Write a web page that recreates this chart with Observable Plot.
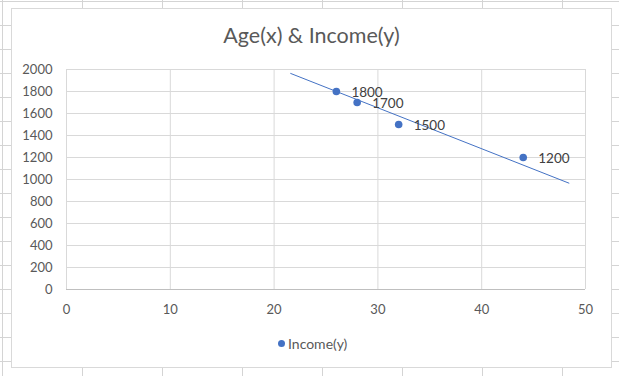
<!DOCTYPE html>
<html>
<head>
<meta charset="utf-8">
<script src="https://cdn.jsdelivr.net/npm/d3@7"></script>
<script src="https://cdn.jsdelivr.net/npm/@observablehq/plot@0.6"></script>
<style>
  html, body { margin: 0; padding: 0; }
  body {
    width: 619px; height: 376px; position: relative; overflow: hidden;
    background-color: #fff;
    background-image:
      linear-gradient(to right, #d4d4d4 1px, transparent 1px),
      linear-gradient(to bottom, #d4d4d4 1px, transparent 1px);
    background-size: 80px 24px;
    background-position: 2px 1px;
  }
  #frame {
    position: absolute; left: 11px; top: 8px; width: 601px; height: 360px;
    border: 1px solid #d9d9d9; box-sizing: border-box; background: #fff;
    font-family: Lato, "Open Sans", sans-serif;
  }
  #title {
    position: absolute; left: 0; right: 0; top: 16px; text-align: center;
    font-size: 21.5px; line-height: 1; color: #595959; white-space: nowrap;
  }
  #chart { position: absolute; left: 0; top: 46px; }
  #legend {
    position: absolute; left: 266px; top: 326px; height: 16px;
    display: flex; align-items: center; font-size: 14px; color: #595959;
  }
  #legend .sw {
    width: 7px; height: 7px; border-radius: 50%; background: #4472C4;
    margin-right: 3px; display: inline-block;
  }
</style>
</head>
<body>
<div id="frame">
  <div id="title">Age(x) &amp; Income(y)</div>
  <div id="chart"></div>
  <div id="legend"><span class="sw"></span><span id="legtext"></span></div>
</div>
<script>
// ---- data ----
const ages = [26, 28, 32, 44];
const incomes = [1800, 1700, 1500, 1200];
const seriesName = "Income(y)";
const xTicks = [0, 10, 20, 30, 40, 50];
const yTicks = [0, 200, 400, 600, 800, 1000, 1200, 1400, 1600, 1800, 2000];
// trendline as drawn in the reference (its two ends)
const trendAges = [21.6, 48.4];
const trendIncomes = [1964, 967];

const points = ages.map((a, i) => ({age: a, income: incomes[i]}));
const trend = trendAges.map((a, i) => ({age: a, income: trendIncomes[i]}));

document.getElementById("legtext").textContent = seriesName;

const blue = "#4472C4";
const chart = Plot.plot({
  width: 599,
  height: 274,
  marginLeft: 54,
  marginRight: 26,
  marginTop: 14,
  marginBottom: 40,
  style: {fontFamily: "Lato, 'Open Sans', sans-serif", fontSize: "13px", color: "#595959", background: "transparent", overflow: "visible"},
  x: {domain: [0, 50]},
  y: {domain: [0, 2000]},
  marks: [
    Plot.gridX(xTicks, {stroke: "#d9d9d9", strokeOpacity: 1}),
    Plot.gridY(yTicks, {stroke: "#d9d9d9", strokeOpacity: 1}),
    Plot.ruleY([0], {stroke: "#bfbfbf"}),
    Plot.axisX({ticks: xTicks, tickSize: 0, tickPadding: 15, label: null, tickFormat: d => `${d}`}),
    Plot.axisY({ticks: yTicks, tickSize: 0, tickPadding: 14, label: null, tickFormat: d => `${d}`}),
    Plot.line(trend, {x: "age", y: "income", stroke: blue, strokeWidth: 1}),
    Plot.dot(points, {x: "age", y: "income", r: 3.8, fill: blue, stroke: "none"}),
    Plot.text(points, {x: "age", y: "income", text: d => `${d.income}`, textAnchor: "start", dx: 15, dy: 1.5, fill: "#404040", fontSize: 13.5})
  ]
});
document.getElementById("chart").appendChild(chart);
</script>
</body>
</html>
